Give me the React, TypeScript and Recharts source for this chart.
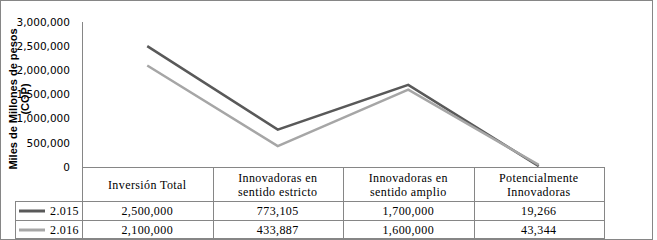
import { LineChart, Line, XAxis, YAxis } from 'recharts';

const categories = [
  'Inversión Total',
  'Innovadoras en sentido estricto',
  'Innovadoras en sentido amplio',
  'Potencialmente Innovadoras',
];
const values2015 = [2500000, 773105, 1700000, 19266];
const values2016 = [2100000, 433887, 1600000, 43344];
const yTicks = [0, 500000, 1000000, 1500000, 2000000, 2500000, 3000000];

const series = [
  { key: 'v2015', label: '2.015', color: '#595959', values: values2015 },
  { key: 'v2016', label: '2.016', color: '#a6a6a6', values: values2016 },
];

const data = categories.map((name, i) => {
  const row: Record<string, string | number> = { name };
  series.forEach((s) => {
    row[s.key] = s.values[i];
  });
  return row;
});

const W = 653;
const H = 240;
const PLOT_LEFT = 82;
const PLOT_RIGHT = 604;
const PLOT_TOP = 22;
const PLOT_BOTTOM = 167;
const COL_W = (PLOT_RIGHT - PLOT_LEFT) / categories.length;
const HEADER_BOTTOM = 201;
const ROW_H = 19;
const LEGEND_LEFT = 15;
const GRID = '#868686';
const cellText = { fontFamily: 'Liberation Serif, serif', fontSize: 12, letterSpacing: 0.4 };

const fmt = (v: number) => v.toLocaleString('en-US');

// greedy word wrap for the header cells
function wrap(label: string, max = 16) {
  const lines: string[] = [];
  let cur = '';
  label.split(' ').forEach((w) => {
    const next = cur ? cur + ' ' + w : w;
    if (next.length > max && cur) {
      lines.push(cur);
      cur = w;
    } else {
      cur = next;
    }
  });
  if (cur) lines.push(cur);
  return lines;
}

function HeaderTick(props: any) {
  const { x, y, payload } = props;
  const lines = wrap(payload.value);
  const offsets = lines.length === 1 ? [18] : [11, 25];
  return (
    <g>
      {lines.map((l, i) => (
        <text key={i} x={x} y={y + offsets[i]} textAnchor="middle" dominantBaseline="central" fill="#000" style={cellText}>
          {l}
        </text>
      ))}
    </g>
  );
}

function AxisTitle() {
  const style = { fontFamily: 'Liberation Sans, Arial, sans-serif', fontWeight: 'bold' as const, fontSize: 11 };
  return (
    <g transform="translate(13, 99) rotate(-90)">
      <text x={0} y={0} textAnchor="middle" dominantBaseline="central" fill="#000" style={style}>
        Miles de Millones de pesos
      </text>
      <text x={0} y={12} textAnchor="middle" dominantBaseline="central" fill="#000" style={style}>
        (COP)
      </text>
    </g>
  );
}

function DataTable() {
  const colX = categories.map((_, i) => PLOT_LEFT + i * COL_W);
  const bottom = HEADER_BOTTOM + ROW_H * series.length;
  return (
    <svg width={W} height={H} style={{ position: 'absolute', top: 0, left: 0, pointerEvents: 'none' }}>
      <g stroke={GRID} strokeWidth={1} shapeRendering="crispEdges">
        <rect x={0.5} y={0.5} width={W - 1} height={H - 1} fill="none" />
        <line x1={PLOT_LEFT} x2={PLOT_RIGHT} y1={PLOT_BOTTOM + 0.5} y2={PLOT_BOTTOM + 0.5} />
        {series.map((_, i) => (
          <line key={i} x1={LEGEND_LEFT} x2={PLOT_RIGHT} y1={HEADER_BOTTOM + i * ROW_H + 0.5} y2={HEADER_BOTTOM + i * ROW_H + 0.5} />
        ))}
        <line x1={LEGEND_LEFT} x2={PLOT_RIGHT} y1={bottom - 0.5} y2={bottom - 0.5} />
        <line x1={LEGEND_LEFT + 0.5} x2={LEGEND_LEFT + 0.5} y1={HEADER_BOTTOM} y2={bottom} />
        {[...colX, PLOT_RIGHT].map((x, i) => (
          <line key={i} x1={Math.round(x) + 0.5} x2={Math.round(x) + 0.5} y1={PLOT_BOTTOM} y2={bottom} />
        ))}
      </g>
      {series.map((s, r) => {
        const cy = HEADER_BOTTOM + r * ROW_H + ROW_H / 2 + 0.5;
        return (
          <g key={s.key}>
            <line x1={19} x2={45} y1={cy} y2={cy} stroke={s.color} strokeWidth={3} />
            <text x={79} y={cy} textAnchor="end" dominantBaseline="central" fill="#000" style={cellText}>
              {s.label}
            </text>
            {s.values.map((v, i) => (
              <text key={i} x={colX[i] + COL_W / 2} y={cy} textAnchor="middle" dominantBaseline="central" fill="#000" style={cellText}>
                {fmt(v)}
              </text>
            ))}
          </g>
        );
      })}
    </svg>
  );
}

export default function App() {
  return (
    <div style={{ position: 'absolute', top: 0, left: 0, width: W, height: H, background: '#fff' }}>
      <LineChart
        width={W}
        height={H}
        data={data}
        margin={{ top: PLOT_TOP, right: W - PLOT_RIGHT, bottom: H - PLOT_BOTTOM - 35, left: 0 }}
      >
        <XAxis
          dataKey="name"
          scale="band"
          height={35}
          axisLine={false}
          tickLine={false}
          tickSize={0}
          tickMargin={0}
          interval={0}
          tick={<HeaderTick />}
        />
        <YAxis
          width={PLOT_LEFT}
          domain={[0, 3000000]}
          ticks={yTicks}
          interval={0}
          tickFormatter={fmt}
          axisLine={{ stroke: GRID, shapeRendering: 'crispEdges' }}
          tickLine={false}
          tickSize={0}
          tickMargin={12}
          tick={{ fontFamily: 'DejaVu Sans, Verdana, sans-serif', fontSize: 10.5, fill: '#000' }}
        />
        {series.map((s) => (
          <Line
            key={s.key}
            dataKey={s.key}
            name={s.label}
            stroke={s.color}
            strokeWidth={2.5}
            dot={false}
            activeDot={false}
            isAnimationActive={false}
          />
        ))}
        <AxisTitle />
      </LineChart>
      <DataTable />
    </div>
  );
}
